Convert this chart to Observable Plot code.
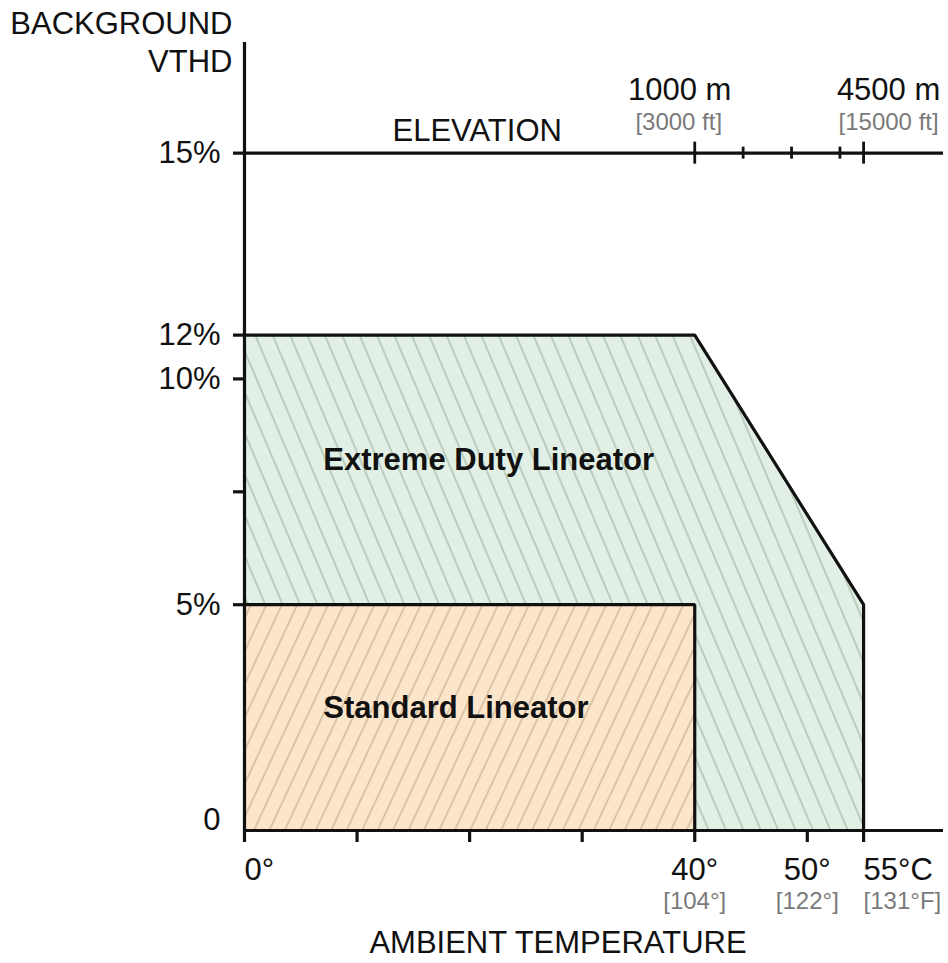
<!DOCTYPE html>
<html>
<head>
<meta charset="utf-8">
<script src="https://cdn.jsdelivr.net/npm/d3@7"></script>
<script src="https://cdn.jsdelivr.net/npm/@observablehq/plot@0.6"></script>
<style>
  html, body { margin: 0; padding: 0; background: #ffffff; }
  #chart svg { display: block; }
</style>
</head>
<body>
<div id="chart"></div>
<script>
// ---- Data ----
const tempTicks = [0, 10, 20, 30, 40, 50, 55];            // °C
const tempLabelValues = [0, 40, 50, 55];
const tempLabelsC = ["0°", "40°", "50°", "55°C"];
const tempLabelsF = ["", "[104°]", "[122°]", "[131°F]"];
const tempLabelAnchor = ["start", "middle", "middle", "start"];

const vthdTicks = [15, 12, 10, 7.5, 5];                     // %
const vthdLabelValues = [15, 12, 10, 5, 0];
const vthdLabels = ["15%", "12%", "10%", "5%", "0"];

const extremeTemp = [0, 40, 55];
const extremeVthd = [12, 12, 5];
const standardTemp = [0, 40];
const standardVthd = [5, 5];

const elevations = [1000, 2000, 3000, 4000, 4500];          // m
const elevTemps  = [40, 44.3, 48.6, 52.9, 55];              // position on temperature axis
const elevMajor  = [true, false, false, false, true];
const elevLabelsM  = ["1000 m", "", "", "", "4500 m"];
const elevLabelsFt = ["[3000 ft]", "", "", "", "[15000 ft]"];

const regionNames = ["Extreme Duty Lineator", "Standard Lineator"];
const regionTemp  = [7, 7];
const regionVthd  = [8.2, 2.7];

// the chart's VTHD axis is schematic: 12% sits just above 10%
const axisBreakValues  = [0, 10, 12, 15, 100];
const axisBreakDisplay = [0, 10, 10.97, 15, 100];

const xMax = 62.1, yMax = 17.45, elevLine = 15;

// ---- Derived tables ----
const extremeData = extremeTemp.map((t, i) => ({t, v: extremeVthd[i]}));
const standardData = standardTemp.map((t, i) => ({t, v: standardVthd[i]}));
const extremeOutline = [...extremeData, {t: extremeTemp[extremeTemp.length - 1], v: 0}];
const standardOutline = [...standardData, {t: standardTemp[standardTemp.length - 1], v: 0}];
const elevData = elevations.map((e, i) => ({e, t: elevTemps[i], major: elevMajor[i], m: elevLabelsM[i], ft: elevLabelsFt[i]}));
const tempLabelData = tempLabelValues.map((t, i) => ({t, c: tempLabelsC[i], f: tempLabelsF[i], a: tempLabelAnchor[i]}));
const vthdLabelData = vthdLabelValues.map((v, i) => ({v, label: vthdLabels[i]}));
const regionData = regionNames.map((name, i) => ({name, t: regionTemp[i], v: regionVthd[i]}));

const yWarp = d3.scaleLinear().domain(axisBreakValues).range(axisBreakDisplay);

const FONT = "'Liberation Sans', Arial, Helvetica, sans-serif";
const GRAY = "#7a7a7a";
const INK = "#111";
const FS = 31;

const svg = Plot.plot({
  width: 948,
  height: 963,
  marginLeft: 244,
  marginRight: 5,
  marginTop: 42,
  marginBottom: 133,
  style: {fontFamily: FONT, fontSize: FS + "px", color: INK, background: "#ffffff", overflow: "visible"},
  x: {domain: [0, xMax], axis: null},
  y: {domain: [0, yMax], transform: v => yWarp(v), axis: null},
  marks: [
    // filled regions
    Plot.areaY(extremeData, {x: "t", y: "v", fill: "url(#hatchGreen)"}),
    Plot.areaY(standardData, {x: "t", y: "v", fill: "url(#hatchOrange)"}),
    // outlines
    Plot.line(extremeOutline, {x: "t", y: "v", stroke: INK, strokeWidth: 3.2, strokeLinejoin: "miter"}),
    Plot.line(standardOutline, {x: "t", y: "v", stroke: INK, strokeWidth: 3.2, strokeLinejoin: "miter"}),
    // axis lines
    Plot.ruleX([0], {y1: 0, y2: yMax, stroke: INK, strokeWidth: 3.2}),
    Plot.ruleY([0], {x1: 0, x2: xMax, stroke: INK, strokeWidth: 3.2}),
    Plot.ruleY([elevLine], {x1: 0, x2: xMax, stroke: INK, strokeWidth: 3.2}),
    // ticks
    Plot.axisX(tempTicks, {anchor: "bottom", tickSize: 12, strokeWidth: 3.2, stroke: INK, tickFormat: () => "", label: null}),
    Plot.axisY(vthdTicks, {anchor: "left", tickSize: 11, strokeWidth: 3.2, stroke: INK, tickFormat: () => "", label: null}),
    Plot.ruleX(elevData.filter(d => d.major), {x: "t", y1: elevLine, y2: elevLine, insetTop: -11, insetBottom: -11, stroke: INK, strokeWidth: 2.8}),
    Plot.ruleX(elevData.filter(d => !d.major), {x: "t", y1: elevLine, y2: elevLine, insetTop: -6, insetBottom: -6, stroke: INK, strokeWidth: 2.8}),
    // y labels
    Plot.text(vthdLabelData.filter(d => d.v !== 0), {x: 0, y: "v", text: "label", textAnchor: "end", dx: -24, fontSize: FS, fill: INK}),
    Plot.text(vthdLabelData.filter(d => d.v === 0), {x: 0, y: "v", text: "label", textAnchor: "end", dx: -24, dy: -10, fontSize: FS, fill: INK}),
    Plot.text(["BACKGROUND\nVTHD"], {x: 0, y: yMax, text: d => d, textAnchor: "end", dx: -12, dy: -2, lineHeight: 1.24, fontSize: FS, fill: INK}),
    // x labels
    Plot.text(tempLabelData.filter(d => d.a === "middle"), {x: "t", y: 0, text: "c", textAnchor: "middle", dy: 40, fontSize: FS, fill: INK}),
    Plot.text(tempLabelData.filter(d => d.a === "start"), {x: "t", y: 0, text: "c", textAnchor: "start", dy: 40, fontSize: FS, fill: INK}),
    Plot.text(tempLabelData.filter(d => d.a === "middle"), {x: "t", y: 0, text: "f", textAnchor: "middle", dy: 71, fontSize: 24, fill: GRAY}),
    Plot.text(tempLabelData.filter(d => d.a === "start"), {x: "t", y: 0, text: "f", textAnchor: "start", dy: 71, fontSize: 24, fill: GRAY}),
    Plot.text(["AMBIENT TEMPERATURE"], {frameAnchor: "bottom", text: d => d, dx: -36, dy: 122, fontSize: FS, fill: INK}),
    // elevation labels
    Plot.text(elevData.filter(d => d.e === 1000), {x: "t", y: elevLine, text: "m", textAnchor: "middle", dx: -15, dy: -63, fontSize: FS, fill: INK}),
    Plot.text(elevData.filter(d => d.e === 1000), {x: "t", y: elevLine, text: "ft", textAnchor: "middle", dx: -16, dy: -31, fontSize: 24, fill: GRAY}),
    Plot.text(elevData.filter(d => d.e === 4500), {x: "t", y: elevLine, text: "m", textAnchor: "middle", dx: 25, dy: -63, fontSize: FS, fill: INK}),
    Plot.text(elevData.filter(d => d.e === 4500), {x: "t", y: elevLine, text: "ft", textAnchor: "middle", dx: 25, dy: -31, fontSize: 24, fill: GRAY}),
    Plot.text(["ELEVATION"], {x: 0, y: elevLine, text: d => d, textAnchor: "start", dx: 148, dy: -22, fontSize: FS, fill: INK}),
    // region labels
    Plot.text(regionData, {x: "t", y: "v", text: "name", textAnchor: "start", fontSize: FS, fontWeight: "bold", fill: INK})
  ]
});

// hatching patterns used by the area fills
const NS = "http://www.w3.org/2000/svg";
const defs = document.createElementNS(NS, "defs");
defs.innerHTML =
  `<pattern id="hatchGreen" patternUnits="userSpaceOnUse" width="16" height="16" patternTransform="rotate(-23)">
     <rect width="16" height="16" fill="#e2efe5"/>
     <line x1="8" y1="-1" x2="8" y2="17" stroke="#9fb7a5" stroke-width="1.2"/>
   </pattern>
   <pattern id="hatchOrange" patternUnits="userSpaceOnUse" width="14" height="14" patternTransform="rotate(25)">
     <rect width="14" height="14" fill="#fce6cb"/>
     <line x1="7" y1="-1" x2="7" y2="15" stroke="#c6af90" stroke-width="1.2"/>
   </pattern>`;
svg.insertBefore(defs, svg.firstChild);
document.getElementById("chart").appendChild(svg);
</script>
</body>
</html>
